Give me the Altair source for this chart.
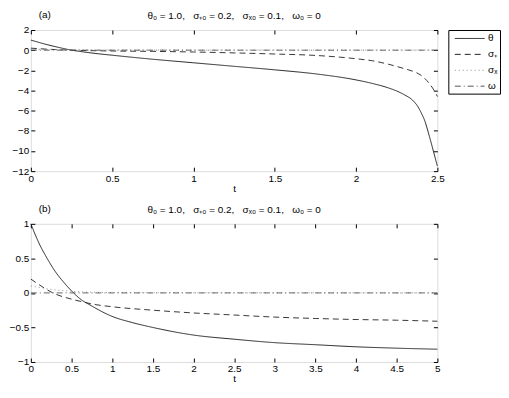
import altair as alt
import pandas as pd

SERIES = ["θ", "σ₊", "σₓ", "ω"]
COLORS = ["#111111", "#222222", "#8a8a8a", "#555555"]
DASHES = [[1, 0], [6, 4], [1, 3], [6, 3, 1, 3]]
SP = ",\u00a0\u00a0\u00a0"
TITLE = "θ₀ = 1.0" + SP + "σ₊₀ = 0.2" + SP + "σₓ₀ = 0.1" + SP + "ω₀ = 0"

# ---- panel (a) ----
a_t_theta = [0, 0.1, 0.2, 0.25, 0.3, 0.4, 0.5, 0.75, 1.0, 1.25, 1.5, 1.75, 2.0, 2.1,
             2.2, 2.25, 2.3, 2.35, 2.38, 2.4, 2.42, 2.45, 2.48, 2.5]
a_theta = [1.0, 0.55, 0.17, 0.0, -0.12, -0.33, -0.5, -0.9, -1.25, -1.6, -1.95, -2.35,
           -2.95, -3.3, -3.75, -4.05, -4.45, -5.0, -5.6, -6.2, -6.9, -8.5, -10.3, -11.5]
a_t_splus = [0, 0.1, 0.25, 0.5, 0.75, 1.0, 1.25, 1.5, 1.75, 2.0, 2.1, 2.2, 2.3, 2.35,
             2.4, 2.45, 2.48, 2.5]
a_splus = [0.2, 0.1, 0.0, -0.08, -0.12, -0.18, -0.27, -0.38, -0.52, -0.85, -1.05, -1.4,
           -1.85, -2.1, -2.5, -3.3, -4.0, -4.6]
a_t_scross = [0, 0.1, 0.2, 0.4, 0.7, 1.0, 1.5, 2.0, 2.5]
a_scross = [0.1, 0.07, 0.05, 0.03, 0.02, 0.01, 0.01, 0.01, 0.02]
a_t_omega = [0, 2.5]
a_omega = [0, 0]

# ---- panel (b) ----
b_t_theta = [0, 0.1, 0.2, 0.3, 0.4, 0.5, 0.6, 0.75, 1.0, 1.25, 1.5, 2.0, 2.5, 3.0,
             3.5, 4.0, 4.5, 5.0]
b_theta = [1.0, 0.72, 0.5, 0.31, 0.16, 0.03, -0.08, -0.19, -0.34, -0.43, -0.5, -0.61,
           -0.67, -0.72, -0.75, -0.78, -0.8, -0.815]
b_t_splus = [0, 0.1, 0.27, 0.5, 0.64, 0.75, 1.0, 1.5, 2.0, 2.5, 3.0, 3.5, 4.0, 4.5, 5.0]
b_splus = [0.2, 0.12, 0.0, -0.09, -0.13, -0.16, -0.2, -0.25, -0.29, -0.32, -0.35,
           -0.37, -0.385, -0.395, -0.41]
b_t_scross = [0, 0.1, 0.2, 0.3, 0.5, 0.75, 1.0, 5.0]
b_scross = [0.1, 0.08, 0.06, 0.045, 0.025, 0.01, 0.005, 0.0]
b_t_omega = [0, 5]
b_omega = [0, 0]

a_x_ticks = [0, 0.5, 1, 1.5, 2, 2.5]
a_y_ticks = [-12, -10, -8, -6, -4, -2, 0, 2]
b_x_ticks = [0, 0.5, 1, 1.5, 2, 2.5, 3, 3.5, 4, 4.5, 5]
b_y_ticks = [-1, -0.5, 0, 0.5, 1]


def long_df(pairs):
    rows = []
    for name, (ts, vs) in zip(SERIES, pairs):
        for t, v in zip(ts, vs):
            rows.append({"t": t, "v": v, "series": name})
    return pd.DataFrame(rows)


def legend():
    return alt.Legend(
        title=None, orient="right", offset=3, padding=2, strokeColor="black",
        symbolType="M-2.5,0H2.5", symbolSize=144, symbolStrokeWidth=1,
        symbolOffset=13, labelOffset=12, rowPadding=4, labelFontSize=10,
        labelFont="Liberation Sans", symbolFillColor="transparent",
    )


def panel(tag, pairs, xdom, ydom, xt, yt, w, h):
    df = long_df(pairs)
    xs = alt.Scale(domain=xdom, nice=False, zero=False)
    ys = alt.Scale(domain=ydom, nice=False, zero=False)
    ax_common = dict(offset=-4, tickSize=4, domain=False, grid=False, labelFlush=False,
                     labelOverlap=False, labelFontSize=10, labelFont="Liberation Sans",
                     tickColor="black", labelColor="black", labelPadding=2,
                     format="~g", minExtent=0)
    hidden = dict(labels=False, title=None, offset=-4, tickSize=4, domain=False,
                  grid=False, tickColor="black", minExtent=0, maxExtent=0)
    lines = alt.Chart(df).mark_line(strokeWidth=0.9, interpolate="monotone").encode(
        x=alt.X("t:Q", scale=xs, axis=alt.Axis(values=xt, title="t", orient="bottom",
                                               titleFontSize=10, titleFontWeight="normal",
                                               titleFont="Liberation Sans", titlePadding=0,
                                               titleColor="black", **ax_common)),
        y=alt.Y("v:Q", scale=ys, axis=alt.Axis(values=yt, title=None, orient="left",
                                               **ax_common)),
        color=alt.Color("series:N", scale=alt.Scale(domain=SERIES, range=COLORS),
                        legend=legend()),
        strokeDash=alt.StrokeDash("series:N", scale=alt.Scale(domain=SERIES, range=DASHES),
                                  legend=legend()),
        order=alt.Order("t:Q"),
    )
    frame = alt.Chart(df).mark_point(opacity=0, size=1).encode(
        x=alt.X("t:Q", scale=xs, axis=alt.Axis(values=xt, orient="top", **hidden)),
        y=alt.Y("v:Q", scale=ys, axis=alt.Axis(values=yt, orient="right", **hidden)),
    )
    label = alt.Chart(pd.DataFrame({"lab": [tag]})).mark_text(
        fontSize=10, font="Liberation Sans", align="center", baseline="middle", color="black"
    ).encode(text="lab:N", x=alt.value(14), y=alt.value(-15))
    return alt.layer(lines, frame, label).resolve_axis(x="independent", y="independent").properties(
        width=w, height=h,
        title=alt.TitleParams(TITLE, fontSize=10, fontWeight="normal", font="Liberation Sans",
                              anchor="middle", frame="group", offset=-11, color="black"),
    )


pa = panel("(a)", [(a_t_theta, a_theta), (a_t_splus, a_splus), (a_t_scross, a_scross),
                   (a_t_omega, a_omega)], [0, 2.5], [-12, 2], a_x_ticks, a_y_ticks, 409, 142)
pb = panel("(b)", [(b_t_theta, b_theta), (b_t_splus, b_splus), (b_t_scross, b_scross),
                   (b_t_omega, b_omega)], [0, 5], [-1, 1], b_x_ticks, b_y_ticks, 409, 139)

chart = alt.vconcat(pa, pb, spacing=9).properties(padding=0).configure_view(
    stroke="black", strokeWidth=1
).configure(font="Liberation Sans", background="white")
chart.save("out.html", embed_options={"renderer": "svg", "actions": False})
